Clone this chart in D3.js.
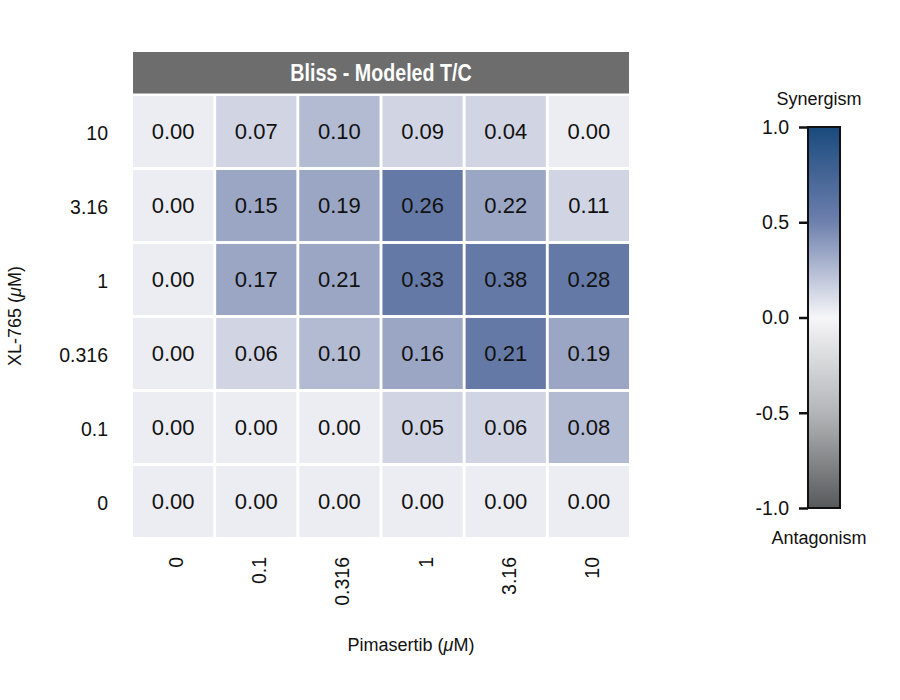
<html lang="en">
<head>
  <script src="https://d3js.org/d3.v7.min.js"></script>
  <style>
    body { margin: 0; background: white; }
    text { font-family: "Liberation Sans", Arial, sans-serif; fill: #111; }
    .title { font-weight: bold; fill: white; }
  </style>
</head>
<body>
  <svg width="900" height="700" id="chart"></svg>
  <script>
    // DATA
    const colLabels = ["0", "0.1", "0.316", "1", "3.16", "10"];      // Pimasertib
    const rowLabels = ["10", "3.16", "1", "0.316", "0.1", "0"];      // XL-765, top to bottom
    const values = [
      [0.00, 0.07, 0.10, 0.09, 0.04, 0.00],
      [0.00, 0.15, 0.19, 0.26, 0.22, 0.11],
      [0.00, 0.17, 0.21, 0.33, 0.38, 0.28],
      [0.00, 0.06, 0.10, 0.16, 0.21, 0.19],
      [0.00, 0.00, 0.00, 0.05, 0.06, 0.08],
      [0.00, 0.00, 0.00, 0.00, 0.00, 0.00]
    ];
    // shading level of each cell, as drawn in the original
    const shade = [
      [0, 1, 2, 1, 1, 0],
      [0, 3, 3, 4, 3, 1],
      [0, 3, 3, 4, 4, 4],
      [0, 1, 2, 3, 4, 3],
      [0, 0, 0, 1, 1, 2],
      [0, 0, 0, 0, 0, 0]
    ];
    const shadeColors = ["#ecedf2", "#d1d5e3", "#b3bbd3", "#9ba6c4", "#6579a6"];
    const barTicks = [1.0, 0.5, 0.0, -0.5, -1.0];
    const barStops = [-1, -0.5, 0, 0.5, 1];
    const barColors = ["#58595b", "#b3b5b8", "#f6f6f8", "#6e80ad", "#1a4a7e"];

    const svg = d3.select("#chart");

    const grid = { left: 133, right: 629, top: 96, bottom: 537 };

    const x = d3.scaleBand().domain(colLabels).range([grid.left, grid.right]).paddingInner(0.035);
    const y = d3.scaleBand().domain(rowLabels).range([grid.top, grid.bottom]).paddingInner(0.04);
    const cellColor = d3.scaleOrdinal().domain(d3.range(shadeColors.length)).range(shadeColors);

    // title bar
    svg.append("rect")
      .attr("x", grid.left).attr("y", 52)
      .attr("width", grid.right - grid.left).attr("height", 41.5)
      .attr("fill", "#6d6d6d");
    svg.append("text").attr("class", "title")
      .attr("transform", "translate(" + ((grid.left + grid.right) / 2) + ",81) scale(0.82,1)")
      .attr("text-anchor", "middle").attr("font-size", 24)
      .text("Bliss - Modeled T/C");

    // cells
    const cells = [];
    rowLabels.forEach((r, i) => colLabels.forEach((c, j) => {
      cells.push({ row: r, col: c, v: values[i][j], s: shade[i][j] });
    }));

    const g = svg.append("g");
    g.selectAll("rect").data(cells).enter().append("rect")
      .attr("x", d => x(d.col)).attr("y", d => y(d.row))
      .attr("width", x.bandwidth()).attr("height", y.bandwidth())
      .attr("fill", d => cellColor(d.s));
    g.selectAll("text").data(cells).enter().append("text")
      .attr("x", d => x(d.col) + x.bandwidth() / 2)
      .attr("y", d => y(d.row) + y.bandwidth() / 2)
      .attr("dy", "0.36em").attr("text-anchor", "middle")
      .attr("font-size", 22)
      .text(d => d3.format(".2f")(d.v));

    // row labels
    svg.append("g").selectAll("text").data(rowLabels).enter().append("text")
      .attr("x", 108).attr("y", d => y(d) + y.bandwidth() / 2)
      .attr("dy", "0.45em").attr("text-anchor", "end").attr("font-size", 19.5)
      .text(d => d);

    // column labels (rotated)
    svg.append("g").selectAll("text").data(colLabels).enter().append("text")
      .attr("transform", d => "translate(" + (x(d) + x.bandwidth() / 2 + 10) + ",557) rotate(-90)")
      .attr("text-anchor", "end").attr("font-size", 19.5)
      .text(d => d);

    // axis titles
    const yt = svg.append("text")
      .attr("transform", "translate(21,316) rotate(-90)")
      .attr("text-anchor", "middle").attr("font-size", 18);
    yt.append("tspan").text("XL-765 (");
    yt.append("tspan").attr("font-style", "italic").text("μ");
    yt.append("tspan").text("M)");

    const xt = svg.append("text")
      .attr("x", 411).attr("y", 651)
      .attr("text-anchor", "middle").attr("font-size", 18);
    xt.append("tspan").text("Pimasertib (");
    xt.append("tspan").attr("font-style", "italic").text("μ");
    xt.append("tspan").text("M)");

    // colour bar
    const bar = { x: 808, w: 32, top: 127, bottom: 508 };
    const barScale = d3.scaleLinear().domain([-1, 1]).range([bar.bottom, bar.top]);
    const barColor = d3.scaleLinear().domain(barStops).range(barColors).interpolate(d3.interpolateRgb);

    const defs = svg.append("defs");
    const grad = defs.append("linearGradient").attr("id", "bargrad")
      .attr("x1", 0).attr("y1", 1).attr("x2", 0).attr("y2", 0);
    d3.range(0, 1.0001, 0.05).forEach(t => {
      grad.append("stop").attr("offset", t).attr("stop-color", barColor(-1 + 2 * t));
    });

    svg.append("rect")
      .attr("x", bar.x).attr("y", bar.top)
      .attr("width", bar.w).attr("height", bar.bottom - bar.top)
      .attr("fill", "url(#bargrad)")
      .attr("stroke", "#111").attr("stroke-width", 2);

    const fmt = d3.format(".1f");
    const barAxis = svg.append("g")
      .attr("transform", "translate(" + bar.x + ",0)")
      .call(d3.axisLeft(barScale).tickValues(barTicks)
        .tickFormat(d => fmt(d).replace("−", "-")).tickSize(9).tickPadding(10));
    barAxis.select(".domain").remove();
    barAxis.selectAll("line").attr("stroke", "#111").attr("stroke-width", 2.5);
    barAxis.selectAll("text").attr("font-size", 19.5).attr("fill", "#111")
      .style("font-family", "'Liberation Sans', Arial, sans-serif");

    svg.append("text").attr("x", 819).attr("y", 105)
      .attr("text-anchor", "middle").attr("font-size", 18).text("Synergism");
    svg.append("text").attr("x", 819).attr("y", 544)
      .attr("text-anchor", "middle").attr("font-size", 18).text("Antagonism");
  </script>
</body>
</html>
